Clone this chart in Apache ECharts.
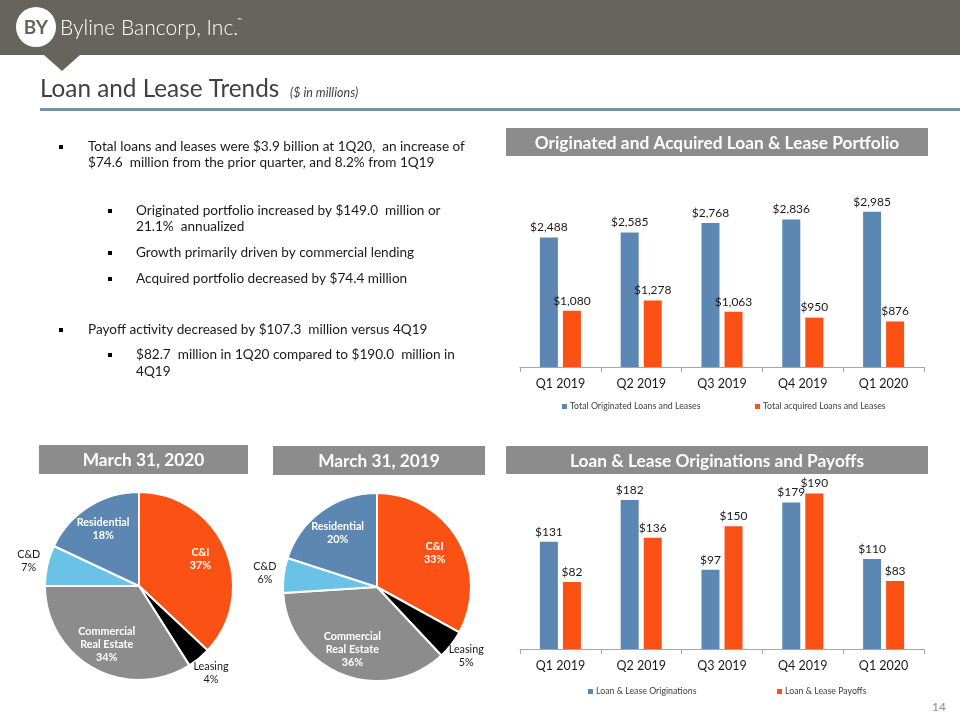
<!DOCTYPE html>
<html><head><meta charset="utf-8">
<script src="https://cdn.jsdelivr.net/npm/echarts@6/dist/echarts.min.js"></script>
<style>html,body{margin:0;padding:0;background:#fff}#c{width:960px;height:720px}</style>
</head><body><div id="c"></div>
<script>
// ---- data ----
const categories = ['Q1 2019', 'Q2 2019', 'Q3 2019', 'Q4 2019', 'Q1 2020'];
const originatedPortfolio = [2488, 2585, 2768, 2836, 2985];
const acquiredPortfolio = [1080, 1278, 1063, 950, 876];
const originations = [131, 182, 97, 179, 110];
const payoffs = [82, 136, 150, 190, 83];
const segmentNames = ['C&I', 'Leasing', 'Commercial Real Estate', 'C&D', 'Residential'];
const segmentLabels = ['C&I', 'Leasing', 'Commercial\nReal Estate', 'C&D', 'Residential'];
const mixMar2020 = [37, 4, 34, 7, 18];
const mixMar2019 = [33, 5, 36, 6, 20];
const outsideSegments = ['Leasing', 'C&D'];

// ---- styles ----
const FONT = "Lato, 'Open Sans', sans-serif";
const BLUE = '#5b87b2';
const ORANGE = '#fb5114';
const segmentColors = [ORANGE, '#000000', '#8c8c8c', '#6ac3e6', BLUE];
const BAND = '#67635d';
const HEADGRAY = '#8c8c8c';

const chart = echarts.init(document.getElementById('c'), null, {renderer: 'canvas'});

function money(v) { return '$' + Number(v).toLocaleString('en-US'); }

function pieSeries(values, center) {
  const total = values.reduce((a, b) => a + b, 0);
  return {
    type: 'pie', center: center, radius: [0, 94], startAngle: 90, clockwise: true,
    silent: true, animation: false,
    itemStyle: {borderColor: '#fff', borderWidth: 2},
    labelLine: {show: false},
    label: {
      position: 'inside', fontFamily: FONT, fontSize: 10.8, lineHeight: 13,
      formatter: p => segmentLabels[p.dataIndex] + '\n' + p.value + '%'
    },
    data: values.map((v, i) => ({
      name: segmentNames[i], value: v, itemStyle: {color: segmentColors[i]},
      label: outsideSegments.includes(segmentNames[i]) ? {color: '#1a1a1a', fontWeight: 'normal'} : {color: '#fff', fontWeight: 'bold'}
    })),
    labelLayout: function (p) {
      const i = p.dataIndex;
      let before = 0;
      for (let k = 0; k < i; k++) before += values[k];
      const mid = (before + values[i] / 2) / total * Math.PI * 2;
      const r = outsideSegments.includes(segmentNames[i]) ? 113 : 67;
      return {x: center[0] + r * Math.sin(mid), y: center[1] - r * Math.cos(mid), align: 'center', verticalAlign: 'middle'};
    }
  };
}

function barLabel() {
  return {show: true, position: 'top', distance: 4, color: '#1a1a1a', fontFamily: FONT, fontSize: 12, formatter: p => money(p.value)};
}

function xAxisCfg(gridIndex) {
  return {
    type: 'category', gridIndex: gridIndex, data: categories,
    axisLine: {lineStyle: {color: '#a6a6a6', width: 1}},
    axisTick: {show: true, length: 5, lineStyle: {color: '#a6a6a6'}},
    axisLabel: {color: '#1a1a1a', fontFamily: FONT, fontSize: 12.5, margin: 10}
  };
}

function legendCfg(name, color, left, top) {
  return {
    data: [{name: name, itemStyle: {color: color}}], left: left, top: top, icon: 'rect', itemWidth: 5, itemHeight: 5,
    itemGap: 5, selectedMode: false, padding: 0,
    textStyle: {fontFamily: FONT, fontSize: 8.8, color: '#404040', padding: [0, 0, 0, -2]}
  };
}

function bullet(x, y) { return {type: 'rect', shape: {x: x, y: y - 2, width: 4, height: 4}, style: {fill: '#000'}}; }
function btext(txt, x, y) { return {type: 'text', style: {text: txt, x: x, y: y, font: '13.6px ' + FONT, fill: '#1a1a1a', verticalAlign: 'middle'}}; }
function headBar(x, y, w, h, txt) {
  return [
    {type: 'rect', shape: {x: x, y: y, width: w, height: h}, style: {fill: HEADGRAY}},
    {type: 'text', style: {text: txt, x: x + w / 2, y: y + h / 2 + 1, font: 'bold 17.3px ' + FONT, fill: '#fff', align: 'center', verticalAlign: 'middle'}}
  ];
}

const graphics = [
  {type: 'rect', shape: {x: 0, y: 0, width: 960, height: 55}, style: {fill: BAND}},
  {type: 'polygon', shape: {points: [[44, 55], [80, 55], [62, 71]]}, style: {fill: BAND}},
  {type: 'circle', shape: {cx: 36, cy: 27, r: 20}, style: {fill: '#fff'}},
  {type: 'text', style: {text: 'BY', x: 36, y: 28, font: 'bold 19px ' + FONT, fill: BAND, align: 'center', verticalAlign: 'middle'}},
  {type: 'text', style: {text: 'Byline Bancorp, Inc.', x: 60, y: 28, font: '300 21px ' + FONT, fill: '#fff', verticalAlign: 'middle'}},
  {type: 'text', style: {text: '™', x: 237, y: 20, font: '6px ' + FONT, fill: '#fff', verticalAlign: 'middle'}},
  {type: 'text', style: {text: 'Loan and Lease Trends', x: 40, y: 89, font: '24.3px ' + FONT, fill: '#404040', verticalAlign: 'middle'}},
  {type: 'text', style: {text: '($ in millions)', x: 290, y: 93, font: 'italic 12.5px ' + FONT, fill: '#404040', verticalAlign: 'middle'}},
  {type: 'rect', shape: {x: 40, y: 108, width: 920, height: 3}, style: {fill: '#7491ab'}},
  bullet(59, 147), btext('Total loans and leases were $3.9 billion at 1Q20,  an increase of', 88, 147),
  btext('$74.6  million from the prior quarter, and 8.2% from 1Q19', 88, 163),
  bullet(108, 211), btext('Originated portfolio increased by $149.0  million or', 136, 211),
  btext('21.1%  annualized', 136, 227),
  bullet(108, 253), btext('Growth primarily driven by commercial lending', 136, 253),
  bullet(108, 279), btext('Acquired portfolio decreased by $74.4 million', 136, 279),
  bullet(59, 330), btext('Payoff activity decreased by $107.3  million versus 4Q19', 88, 330),
  bullet(108, 355), btext('$82.7  million in 1Q20 compared to $190.0  million in', 136, 355),
  btext('4Q19', 136, 372),
  ...headBar(506, 128, 422, 28, 'Originated and Acquired Loan & Lease Portfolio'),
  ...headBar(39, 445, 209, 29, 'March 31, 2020'),
  ...headBar(273, 446, 212, 29, 'March 31, 2019'),
  ...headBar(506, 446, 422, 28, 'Loan & Lease Originations and Payoffs'),
  {type: 'text', style: {text: '14', x: 946, y: 707, font: '12px ' + FONT, fill: '#8c8c8c', align: 'right', verticalAlign: 'middle'}}
];

chart.setOption({
  animation: false,
  backgroundColor: '#fff',
  textStyle: {fontFamily: FONT},
  grid: [
    {left: 520, width: 404, top: 185, height: 182},
    {left: 520, width: 404, top: 469, height: 180}
  ],
  xAxis: [xAxisCfg(0), xAxisCfg(1)],
  yAxis: [
    {type: 'value', gridIndex: 0, min: 0, max: 3500, show: false, splitLine: {show: false}},
    {type: 'value', gridIndex: 1, min: 0, max: 220, show: false, splitLine: {show: false}}
  ],
  legend: [
    legendCfg('Total Originated Loans and Leases', BLUE, 562, 402),
    legendCfg('Total acquired Loans and Leases', ORANGE, 755, 402),
    legendCfg('Loan & Lease Originations', BLUE, 588, 687),
    legendCfg('Loan & Lease Payoffs', ORANGE, 777, 687)
  ],
  series: [
    {name: 'Total Originated Loans and Leases', type: 'bar', xAxisIndex: 0, yAxisIndex: 0, data: originatedPortfolio, barWidth: 18, barGap: '28%', itemStyle: {color: BLUE}, label: barLabel()},
    {name: 'Total acquired Loans and Leases', type: 'bar', xAxisIndex: 0, yAxisIndex: 0, data: acquiredPortfolio, barWidth: 18, barGap: '28%', itemStyle: {color: ORANGE}, label: barLabel()},
    {name: 'Loan & Lease Originations', type: 'bar', xAxisIndex: 1, yAxisIndex: 1, data: originations, barWidth: 18, barGap: '28%', itemStyle: {color: BLUE}, label: barLabel()},
    {name: 'Loan & Lease Payoffs', type: 'bar', xAxisIndex: 1, yAxisIndex: 1, data: payoffs, barWidth: 18, barGap: '28%', itemStyle: {color: ORANGE}, label: barLabel()},
    pieSeries(mixMar2020, [139, 586]),
    pieSeries(mixMar2019, [377, 587])
  ],
  graphic: graphics
});
</script></body></html>
